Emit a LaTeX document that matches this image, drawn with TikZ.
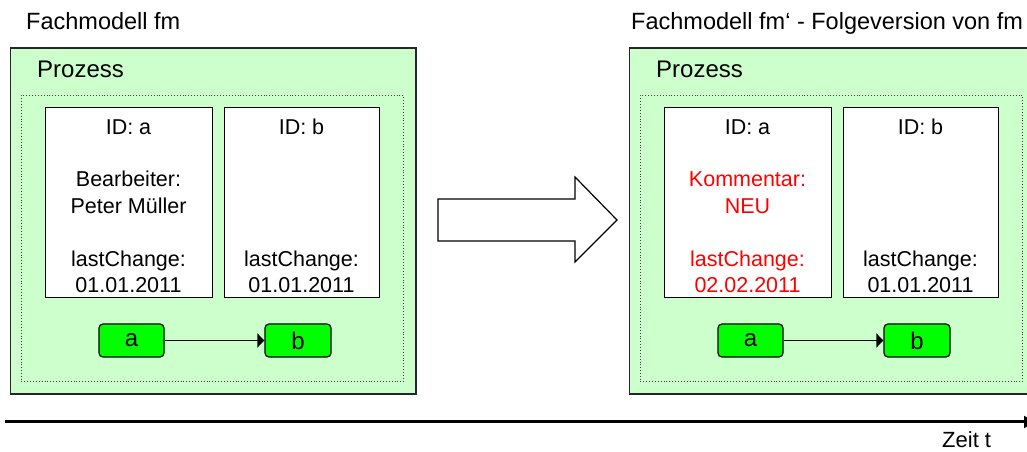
\documentclass[tikz,border=0pt]{standalone}
\usepackage{fontspec}
\setmainfont{Liberation Sans}
\usetikzlibrary{arrows.meta}
\definecolor{panelgreen}{HTML}{CCFFCC}
\definecolor{nodegreen}{HTML}{00FF00}
\definecolor{newred}{HTML}{FF0000}
\begin{document}
\begin{tikzpicture}[x=1bp,y=-1bp,
  panel/.style={draw=black!85, line width=1.6bp, fill=panelgreen, inner sep=0pt, anchor=north west},
  dotbox/.style={draw=black!75, line width=0.9bp, dotted, inner sep=0pt, anchor=north west},
  attrbox/.style={draw=black, line width=1.4bp, fill=white, inner sep=0pt, anchor=north west, minimum height=190bp},
  elem/.style={draw=black, line width=1.2bp, fill=nodegreen, rounded corners=4bp, inner sep=0pt, minimum height=33bp, font=\fontsize{24bp}{28bp}\selectfont},
  title/.style={anchor=base west, inner sep=0pt, font=\fontsize{23.5bp}{28bp}\selectfont},
  lbl/.style={anchor=base west, inner sep=0pt, font=\fontsize{24bp}{28bp}\selectfont},
  txt/.style={anchor=base, inner sep=0pt, font=\fontsize{21.5bp}{26bp}\selectfont},
  rtxt/.style={txt, text=newred},
  flow/.style={line width=1.2bp, -{Triangle[length=7bp,width=14bp]}},
  blockarrow/.style={draw=black, line width=1.2bp, fill=white, line join=miter}
]
\useasboundingbox (0,0) rectangle (1027,452);
\clip (0,0) rectangle (1027,452);

% ---------- left panel ----------
\node[title] (Ltitle) at (26,30) {Fachmodell fm};
\node[panel, minimum width=405.5bp, minimum height=346bp] (Lpanel) at (9.5,47) {};
\node[lbl] (Lproz) at (37,78) {Prozess};
\node[dotbox, minimum width=382bp, minimum height=286bp] (Ldots) at (21,95) {};
\node[attrbox, minimum width=167bp] (Lboxa) at (45,107) {};
\node[attrbox, minimum width=155bp] (Lboxb) at (224,107) {};
\node[txt] (Laid) at (128.5,135) {ID: a};
\node[txt] (Lab1) at (128.5,187) {Bearbeiter:};
\node[txt] (Lab2) at (128.5,214) {Peter Müller};
\node[txt] (Lalc) at (128.5,267) {lastChange:};
\node[txt] (Lald) at (128.5,293) {01.01.2011};
\node[txt] (Lbid) at (301.5,135) {ID: b};
\node[txt] (Lblc) at (301.5,267) {lastChange:};
\node[txt] (Lbld) at (301.5,293) {01.01.2011};
\node[elem, minimum width=65bp] (La) at (131.5,340.5) {a};
\node[elem, minimum width=66bp] (Lb) at (298,340.5) {b};
\draw[flow] (La) -- (Lb);

% ---------- block arrow ----------
\draw[blockarrow] (438,199) -- (575,199) -- (575,177) -- (617,220) -- (575,262) -- (575,241) -- (438,241) -- cycle;

% ---------- right panel ----------
\node[title] (Rtitle) at (631,30) {Fachmodell fm‘ - Folgeversion von fm};
\node[panel, minimum width=405.5bp, minimum height=346bp] (Rpanel) at (628.5,47) {};
\node[lbl] (Rproz) at (656,78) {Prozess};
\node[dotbox, minimum width=382bp, minimum height=286bp] (Rdots) at (640,95) {};
\node[attrbox, minimum width=167bp] (Rboxa) at (664,107) {};
\node[attrbox, minimum width=155bp] (Rboxb) at (843,107) {};
\node[txt] (Raid) at (747.5,135) {ID: a};
\node[rtxt] (Ra1) at (747.5,187) {Kommentar:};
\node[rtxt] (Ra2) at (747.5,214) {NEU};
\node[rtxt] (Ralc) at (747.5,267) {lastChange:};
\node[rtxt] (Rald) at (747.5,293) {02.02.2011};
\node[txt] (Rbid) at (920.5,135) {ID: b};
\node[txt] (Rblc) at (920.5,267) {lastChange:};
\node[txt] (Rbld) at (920.5,293) {01.01.2011};
\node[elem, minimum width=65bp] (Ra) at (750.5,340.5) {a};
\node[elem, minimum width=66bp] (Rb) at (917,340.5) {b};
\draw[flow] (Ra) -- (Rb);

% ---------- time axis ----------
\coordinate (t0) at (5,422);
\coordinate (t1) at (1034,422);
\draw[line width=3bp, -{Triangle[length=10bp,width=12bp]}] (t0) -- (t1);
\node[title, font=\fontsize{22bp}{26bp}\selectfont] (zeit) at (942,447) {Zeit t};
\end{tikzpicture}
\end{document}
